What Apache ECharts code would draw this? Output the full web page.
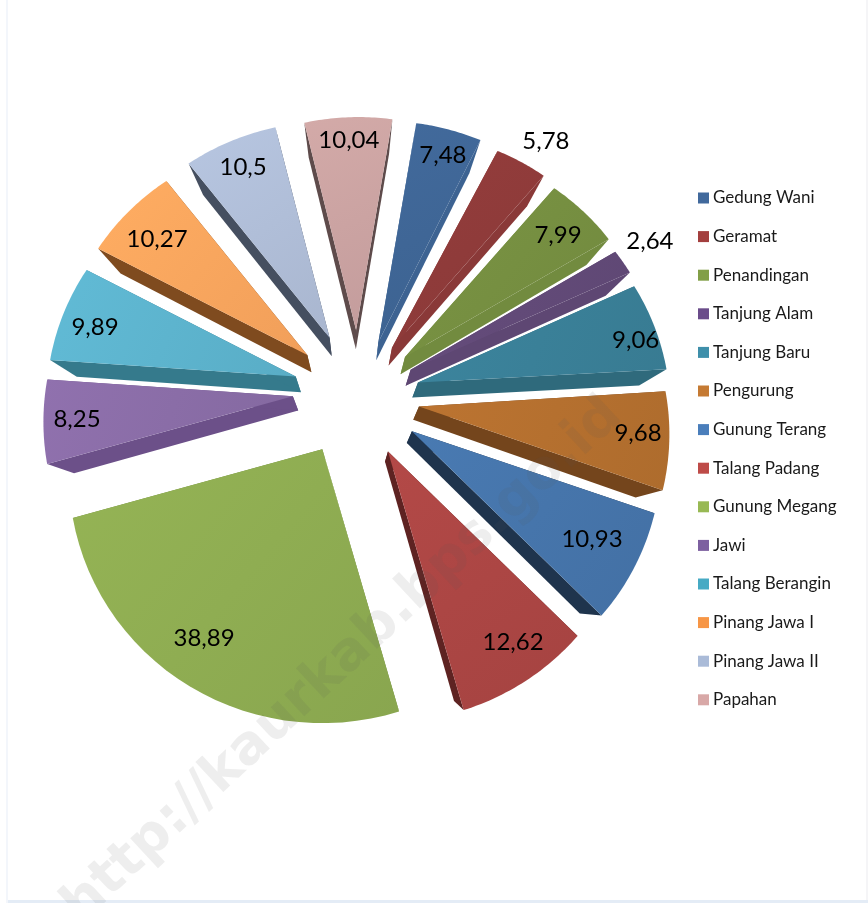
<!DOCTYPE html>
<html><head><meta charset="utf-8">
<style>html,body{margin:0;padding:0;background:#fff}#c{width:868px;height:903px}</style>
<script src="https://cdn.jsdelivr.net/npm/echarts@6/dist/echarts.min.js"></script>
</head><body><div id="c"></div>
<script>
const categories = ['Gedung Wani','Geramat','Penandingan','Tanjung Alam','Tanjung Baru','Pengurung','Gunung Terang','Talang Padang','Gunung Megang','Jawi','Talang Berangin','Pinang Jawa I','Pinang Jawa II','Papahan'];
const values = [7.48,5.78,7.99,2.64,9.06,9.68,10.93,12.62,38.89,8.25,9.89,10.27,10.5,10.04];
const valueLabels = ['7,48','5,78','7,99','2,64','9,06','9,68','10,93','12,62','38,89','8,25','9,89','10,27','10,5','10,04'];
const topColors = ['#3F6696','#8F3B3A','#768F41','#624A78','#3A8098','#B5702F','#4675AB','#AC4644','#8FAD52','#8A6DA7','#5DB4CE','#FBA65E','#B0BED8','#CBA3A2'];
const sideColors = ['#3D6392','#8A3938','#728B3F','#5E4773','#2F6A7C','#74451C','#1F344D','#5E2322','#6E8A3C','#6C5089','#357A8C','#7F4B1F','#454F60','#5E4B4B'];
const legendColors = ['#41699C','#A33F3E','#829F47','#6A4C8A','#3E8FAA','#C57A33','#4A7EBB','#BE4B48','#98B954','#7D60A0','#46AAC4','#F79646','#AABBD8','#D8A8A7'];
const labelRho = [252,314.5,255.4,330,284,284.6,277.6,295,289.4,280.8,269.5,251.4,252,252];
const labelShift = [2.3,3.8,2.75,1,4,1.1,0.55,-1,2.65,0.25,-1.45,-1.5,0,1];
const apexNudgeX = [7,9,6.5,5.5,4.5,2,2.5,-0.5,-4,-2,-1,-1,1,5];
const apexNudgeY = [4,7.5,8.5,10,10,8.5,7,6.5,3,-2,1,2,1,3];
const tipNudgeX = [-4,-7.5,-5,-6,-3,-1,0,0,0,0,0,0,0,-2.5];
const tipNudgeY = [5,0,-3,-3,-4,-2,0,0,0,0,0,0,0,-3];
const radiusNudge = [0,0,0,0,0,0,0,0,4,0,0,0,0,0];

const CX = 356.5, CY = 392, EXPLODE = 62, START = 9;
const VX = 354, VY = 588, KX = 0.0877, KY = 0.074;
const total = values.reduce((a, b) => a + b, 0);
const rad = d => d * Math.PI / 180;
const dir = d => [Math.sin(rad(d)), -Math.cos(rad(d))];
const radius = d => { const c = Math.cos(rad(d)); return 248 - 27 * c - 5 * c * c; };
const lower = p => [p[0] - KX * (p[0] - VX), p[1] - KY * (p[1] - VY)];

function geometry(i) {
  let a0 = START;
  for (let k = 0; k < i; k++) a0 += values[k] / total * 360;
  const a1 = a0 + values[i] / total * 360, mid = (a0 + a1) / 2, m = dir(mid);
  const origin = [CX + EXPLODE * m[0] + apexNudgeX[i], CY + EXPLODE * m[1] + apexNudgeY[i]];
  const apex = [origin[0] + tipNudgeX[i], origin[1] + tipNudgeY[i]];
  const arc = [];
  for (let s = 0; s <= 30; s++) {
    const t = a0 + (a1 - a0) * s / 30, d = dir(t), r = radius(t) + radiusNudge[i];
    arc.push([origin[0] + r * d[0], origin[1] + r * d[1]]);
  }
  return { mid, apex, arc };
}
function shade(hex, f) {
  const n = parseInt(hex.slice(1), 16);
  const ch = s => Math.max(0, Math.min(255, Math.round(((n >> s) & 255) * f)));
  return `rgb(${ch(16)},${ch(8)},${ch(0)})`;
}
function renderSlice(i, api) {
  const g = geometry(i), first = g.arc[0], last = g.arc[g.arc.length - 1];
  const quad = (a, b) => ({ type: 'polygon', shape: { points: [a, b, lower(b), lower(a)] }, style: { fill: sideColors[i] } });
  const md = dir(g.mid + labelShift[i]);
  return {
    type: 'group',
    children: [
      quad(g.apex, first),
      quad(g.apex, last),
      { type: 'polygon', shape: { points: [g.apex].concat(g.arc) },
        style: { fill: { type: 'linear', x: 0, y: 0, x2: 1, y2: 1, colorStops: [
          { offset: 0, color: shade(topColors[i], 1.04) }, { offset: 1, color: shade(topColors[i], 0.96) }] } } },
      { type: 'text', z2: 10, style: { text: valueLabels[i], x: CX + labelRho[i] * md[0], y: CY + labelRho[i] * md[1],
        font: '24px Lato, "Open Sans", sans-serif', fill: '#000', align: 'center', verticalAlign: 'middle' } }
    ]
  };
}
const chart = echarts.init(document.getElementById('c'), null, { renderer: 'canvas' });
chart.setOption({
  animation: false,
  backgroundColor: '#fff',
  legend: {
    orient: 'vertical', left: 693, top: 184, itemWidth: 11, itemHeight: 11, itemGap: 20.6,
    icon: 'rect', selectedMode: false,
    textStyle: { fontFamily: 'Lato, "Open Sans", sans-serif', fontSize: 17, lineHeight: 18, color: '#1a1a1a', padding: [0, 0, 0, -1] },
    data: categories
  },
  graphic: [
    { type: 'rect', z: 0, shape: { x: 6, y: 0, width: 2, height: 903 }, style: { fill: '#F3F6FB' } },
    { type: 'rect', z: 0, shape: { x: 866, y: 0, width: 2, height: 903 }, style: { fill: '#F5F5F7' } },
    { type: 'rect', z: 0, shape: { x: 8, y: 900, width: 860, height: 3 }, style: { fill: '#E4ECF6' } },
    { type: 'text', z: 100, x: 343, y: 661, rotation: rad(43),
      style: { text: 'http://kaurkab.bps.go.id', font: 'bold 54px "DejaVu Sans", sans-serif',
        fill: 'rgba(90,90,90,0.1)', align: 'center', verticalAlign: 'middle' } }
  ],
  series: categories.map((name, i) => ({
    type: 'custom', name, coordinateSystem: 'none', silent: true,
    itemStyle: { color: legendColors[i] },
    data: [[values[i]]],
    renderItem: (p, api) => renderSlice(i, api)
  }))
});
</script></body></html>
